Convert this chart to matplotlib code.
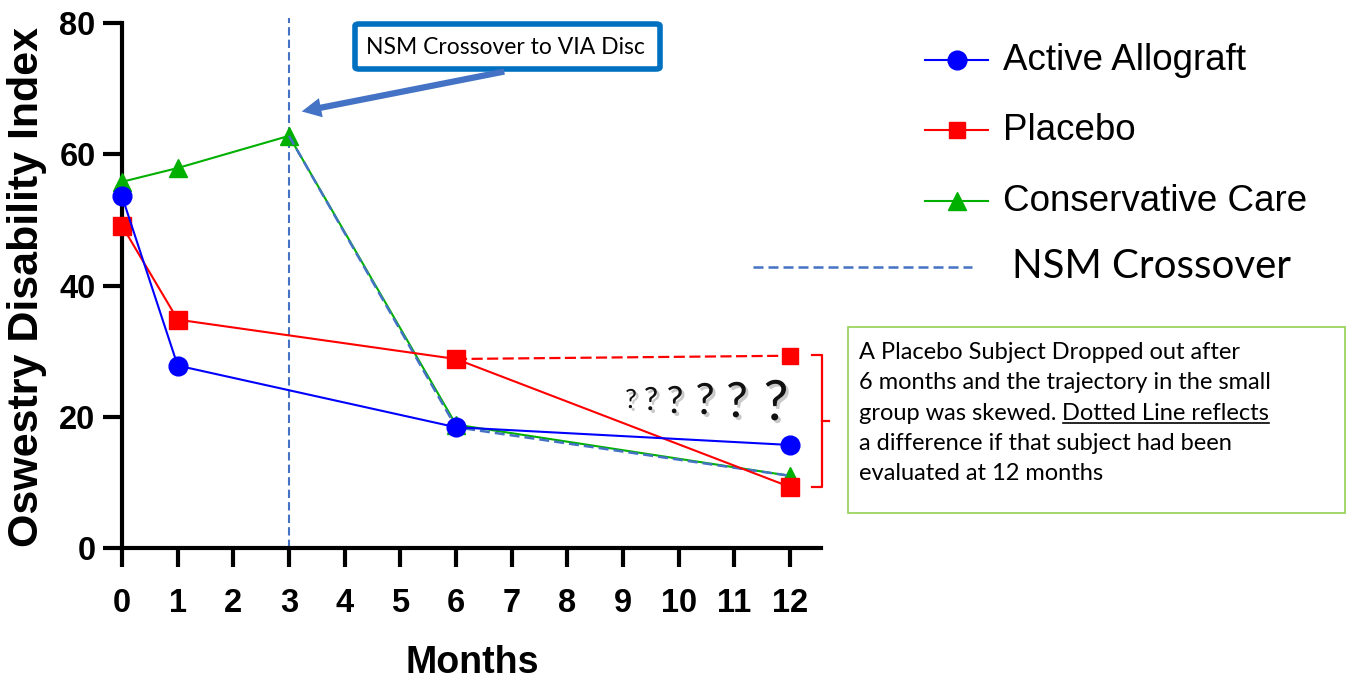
import matplotlib
matplotlib.use("Agg")
import matplotlib.pyplot as plt
from matplotlib.lines import Line2D
from matplotlib.patches import FancyBboxPatch, FancyArrowPatch
import matplotlib.patheffects as pe

# ---------------- data ----------------
months_ticks = [0, 1, 2, 3, 4, 5, 6, 7, 8, 9, 10, 11, 12]
y_ticks = [0, 20, 40, 60, 80]

active_months = [0, 1, 6, 12]
active_values = [53.6, 27.8, 18.4, 15.7]

placebo_months = [0, 1, 6, 12]
placebo_values = [49.1, 34.8, 28.8, 9.3]

conservative_months = [0, 1, 3, 6, 12]
conservative_values = [55.8, 57.9, 62.8, 18.8, 11.0]

crossover_months = [3, 6, 12]
crossover_values = [62.8, 18.4, 11.0]

placebo_imputed_months = [6, 12]
placebo_imputed_values = [28.8, 29.3]

crossover_at = 3

series_labels = ["Active Allograft", "Placebo", "Conservative Care", "NSM Crossover"]

# ---------------- fonts ----------------
ARIAL = ["Liberation Sans", "DejaVu Sans"]
CAL = ["Lato", "DejaVu Sans"]

W, H = 1347, 681
fig = plt.figure(figsize=(W / 100, H / 100), dpi=100)

def fx(x):
    return x / W

def fy(y):
    return 1 - y / H

# axes: x=0 at px 122, x=12 at px 790 ; y=0 at px 548, y=80 at px 23
ax_left, ax_right = 122, 821
ax_top, ax_bot = 23, 548
ax = fig.add_axes([fx(ax_left), fy(ax_bot), (ax_right - ax_left) / W, (ax_bot - ax_top) / H])
xmax = (ax_right - ax_left) / ((790 - 122) / 12)
ax.set_xlim(0, xmax)
ax.set_ylim(0, 80)

BLUE = "#0000FF"
RED = "#FF0000"
GREEN = "#00B000"
XBLUE = "#4472C4"

ax.plot(conservative_months, conservative_values, color=GREEN, lw=1.5, marker="^", ms=13,
        clip_on=False, zorder=3)
ax.plot(crossover_months, crossover_values, color=XBLUE, lw=1.8, dashes=(4, 2), clip_on=False, zorder=3.2)
ax.plot(placebo_imputed_months, placebo_imputed_values, color=RED, lw=1.6, dashes=(5, 2),
        zorder=3.1, clip_on=False)
ax.plot(placebo_imputed_months[-1:], placebo_imputed_values[-1:], color=RED, ls="none", marker="s", ms=11,
        zorder=3.1, clip_on=False)
ax.plot(placebo_months, placebo_values, color=RED, lw=1.5, marker="s", ms=13, clip_on=False, zorder=3.3)
ax.plot(active_months, active_values, color=BLUE, lw=1.5, marker="o", ms=13.5, clip_on=False, zorder=3.4)

ax.axvline(crossover_at, ymin=0, ymax=(ax_bot - 18) / (ax_bot - ax_top), color=XBLUE, lw=1.5,
           dashes=(4, 2), clip_on=False, zorder=2)

for s in ["top", "right"]:
    ax.spines[s].set_visible(False)
for s in ["left", "bottom"]:
    ax.spines[s].set_linewidth(3)
ax.set_xticks(months_ticks)
ax.set_yticks(y_ticks)
ax.tick_params(axis="both", width=3, length=14, labelsize=23.5)
ax.tick_params(axis="y", pad=5)
ax.tick_params(axis="x", pad=15)
for lab in ax.get_xticklabels() + ax.get_yticklabels():
    lab.set_fontfamily(ARIAL)
    lab.set_fontweight("bold")

fig.text(fx(27), fy(287), "Oswestry Disability Index", rotation=90, ha="center", va="center",
         fontsize=31, fontweight="bold", family=ARIAL)
fig.text(fx(472), fy(645), "Months", ha="center", va="top", fontsize=27, fontweight="bold",
         family=ARIAL)

# ---------------- legend (manual) ----------------
leg_items = [(60, BLUE, "o", 13.5), (130, RED, "s", 12), (201, GREEN, "^", 13)]
for (yy, col, mk, ms), lab in zip(leg_items, series_labels[:3]):
    fig.add_artist(Line2D([fx(925), fx(988)], [fy(yy), fy(yy)], color=col, lw=1.5,
                          transform=fig.transFigure))
    fig.add_artist(Line2D([fx(957)], [fy(yy)], color=col, marker=mk, ms=ms, ls="none",
                          transform=fig.transFigure))
    fig.text(fx(1003), fy(yy), lab, ha="left", va="center", fontsize=26.5, family=ARIAL)
fig.add_artist(Line2D([fx(753), fx(972)], [fy(267), fy(267)], color=XBLUE, lw=1.8, dashes=(4, 2),
                      transform=fig.transFigure))
fig.text(fx(1012), fy(267), series_labels[3], ha="left", va="center", fontsize=29, family=CAL)

# ---------------- callout box ----------------
box = FancyBboxPatch((fx(355), fy(69)), fx(660) - fx(355), fy(24) - fy(69),
                     boxstyle="round,pad=0,rounding_size=0.003", transform=fig.transFigure,
                     fc="white", ec="#0070C0", lw=4)
fig.add_artist(box)
fig.text(fx(505), fy(47), "NSM Crossover to VIA Disc", ha="center", va="center", fontsize=16.5, family=CAL)
arr = FancyArrowPatch((fx(507), fy(71)), (fx(299), fy(112)), transform=fig.transFigure,
                      arrowstyle="simple,head_length=14,head_width=14,tail_width=4.5",
                      color=XBLUE, mutation_scale=1, lw=0)
fig.add_artist(arr)

# ---------------- question marks ----------------
q_x = [631, 651, 675, 705, 737, 776]
q_base = [408, 410, 413, 414, 417, 420]
q_size = [19, 23, 27, 31, 35, 40]
for xx, yb, ss in zip(q_x, q_base, q_size):
    fig.text(fx(xx), fy(yb), "?", ha="center", va="baseline", fontsize=ss, family=CAL,
             color="#111111",
             path_effects=[pe.withSimplePatchShadow(offset=(2, -2), shadow_rgbFace="#888888", alpha=0.45)])

# ---------------- red bracket ----------------
fig.add_artist(Line2D([fx(812), fx(822), fx(822), fx(812)], [fy(355), fy(355), fy(487), fy(487)],
                      color=RED, lw=1.6, transform=fig.transFigure))
fig.add_artist(Line2D([fx(822), fx(829)], [fy(421), fy(421)], color=RED, lw=1.6,
                      transform=fig.transFigure))

# ---------------- note box ----------------
note = FancyBboxPatch((fx(848), fy(513)), fx(1345) - fx(848), fy(327) - fy(513),
                      boxstyle="square,pad=0", transform=fig.transFigure, fc="white",
                      ec="#92D050", lw=1.2)
fig.add_artist(note)
note_lines = ["A Placebo Subject Dropped out after",
              "6 months and the trajectory in the small",
              "group was skewed. ",
              "a difference if that subject had been",
              "evaluated at 12 months"]
underlined = "Dotted Line reflects"
base_y = [359, 389, 420, 450, 480]
NS = 17
texts = []
for ln, by in zip(note_lines, base_y):
    texts.append(fig.text(fx(859), fy(by), ln, ha="left", va="baseline", fontsize=NS, family=CAL))
fig.canvas.draw()
r = fig.canvas.get_renderer()
bb = texts[2].get_window_extent(r)
t_ul = fig.text(bb.x1 / W, fy(base_y[2]), underlined, ha="left", va="baseline", fontsize=NS, family=CAL)
fig.canvas.draw()
bb2 = t_ul.get_window_extent(r)
fig.add_artist(Line2D([bb2.x0 / W, bb2.x1 / W], [fy(base_y[2] + 3), fy(base_y[2] + 3)], color="black",
                      lw=1.2, transform=fig.transFigure))

fig.savefig("out.png", dpi=100)
